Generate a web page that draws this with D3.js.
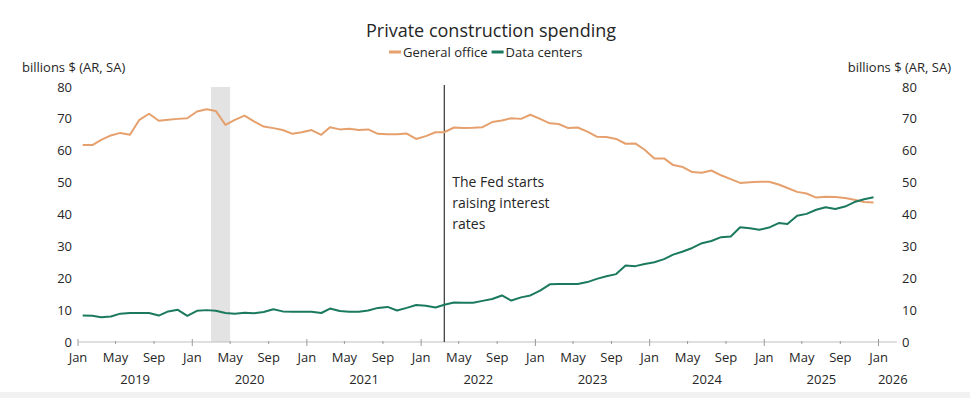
<!DOCTYPE html>
<html>
<head>
<meta charset="utf-8">
<script src="https://cdn.jsdelivr.net/npm/d3@7"></script>
<style>
  html, body { margin: 0; padding: 0; background: #fff; }
  svg { display: block; font-family: "Open Sans", "Noto Sans", sans-serif; }
</style>
</head>
<body>
<svg id="chart" width="970" height="398"></svg>
<script>
/* Private construction spending: general office vs data centers */
(function () {
  const ORANGE = '#e5a06d';
  const GREEN = '#1b7a5e';
  const TEXT = '#262626';

  // monthly, Jan 2019 .. Dec 2025
  const months = d3.timeMonth.range(new Date(2019, 0, 1), new Date(2026, 0, 1));

  const generalOffice = [
    61.8, 61.8, 63.4, 64.8, 65.6, 65.0, 69.7, 71.6, 69.4, 69.7, 70.0, 70.2,
    72.3, 73.0, 72.5, 68.1, 69.7, 71.0, 69.2, 67.6, 67.1, 66.5, 65.3, 65.8,
    66.5, 65.0, 67.4, 66.7, 66.9, 66.5, 66.7, 65.3, 65.2, 65.2, 65.4, 63.7,
    64.6, 65.8, 65.8, 67.3, 67.1, 67.2, 67.4, 69.0, 69.5, 70.2, 70.0, 71.3,
    70.0, 68.6, 68.4, 67.1, 67.3, 66.0, 64.4, 64.3, 63.7, 62.2, 62.3, 60.3,
    57.6, 57.6, 55.5, 54.9, 53.3, 53.1, 53.8, 52.3, 51.1, 49.9, 50.1, 50.3,
    50.3, 49.4, 48.3, 47.1, 46.6, 45.3, 45.6, 45.5, 45.2, 44.6, 43.9, 43.8
  ];
  const dataCenters = [
    8.3, 8.2, 7.8, 8.0, 8.9, 9.1, 9.1, 9.1, 8.3, 9.6, 10.1, 8.2,
    9.8, 10.0, 9.8, 9.1, 8.9, 9.2, 9.0, 9.4, 10.3, 9.6, 9.5, 9.5,
    9.5, 9.1, 10.5, 9.7, 9.5, 9.5, 9.9, 10.7, 11.0, 9.9, 10.7, 11.6,
    11.4, 10.8, 11.7, 12.4, 12.3, 12.3, 12.9, 13.5, 14.6, 13.0, 14.0, 14.6,
    16.1, 18.1, 18.2, 18.2, 18.2, 18.8, 19.8, 20.6, 21.3, 24.0, 23.8, 24.5,
    25.0, 26.0, 27.4, 28.4, 29.5, 31.0, 31.7, 32.9, 33.1, 36.0, 35.7, 35.2,
    35.9, 37.3, 37.0, 39.6, 40.2, 41.5, 42.3, 41.7, 42.5, 43.9, 44.8, 45.4
  ];

  const series = [
    { name: 'General office', values: generalOffice, color: ORANGE },
    { name: 'Data centers', values: dataCenters, color: GREEN }
  ];

  const yTicks = [0, 10, 20, 30, 40, 50, 60, 70, 80];
  const yearLabels = [2019, 2020, 2021, 2022, 2023, 2024, 2025, 2026];
  const recession = [new Date(2020, 2, 1), new Date(2020, 4, 1)];
  const fedDate = new Date(2022, 2, 16);
  const fedNote = ['The Fed starts', 'raising interest', 'rates'];

  const svg = d3.select('#chart');

  const x = d3.scaleTime()
    .domain([new Date(2019, 0, 1), new Date(2026, 2, 1)])
    .range([78, 897]);
  const y = d3.scaleLinear().domain([0, 80]).range([342, 87]);

  // mid-month placement of monthly points
  const mid = (d) => new Date(d.getFullYear(), d.getMonth(), 16);

  // recession band
  svg.append('rect')
    .attr('x', x(recession[0]))
    .attr('y', y(80))
    .attr('width', x(recession[1]) - x(recession[0]))
    .attr('height', y(0) - y(80))
    .attr('fill', '#e3e3e3');

  // x axis
  const xAxis = svg.append('g').attr('transform', 'translate(0,' + y(0) + ')');
  xAxis.append('line')
    .attr('x1', x.range()[0]).attr('x2', x.range()[1])
    .attr('stroke', '#bfbfbf').attr('stroke-width', 1.2);
  const tickDates = d3.timeMonth.every(4).range(new Date(2019, 0, 1), new Date(2026, 1, 1));
  xAxis.selectAll('line.tick').data(tickDates).join('line')
    .attr('class', 'tick')
    .attr('x1', (d) => x(d)).attr('x2', (d) => x(d))
    .attr('y1', (d) => (d.getMonth() === 0 ? -3 : -1))
    .attr('y2', (d) => (d.getMonth() === 0 ? 4 : 2))
    .attr('stroke', '#9a9a9a').attr('stroke-width', 1);
  xAxis.selectAll('text.mon').data(tickDates).join('text')
    .attr('class', 'mon')
    .attr('x', (d) => x(d)).attr('y', 20)
    .attr('text-anchor', 'middle')
    .attr('font-size', 13).attr('fill', TEXT)
    .text(d3.timeFormat('%b'));
  xAxis.selectAll('text.yr').data(yearLabels).join('text')
    .attr('class', 'yr')
    .attr('x', (d) => {
      const a = x(new Date(d, 0, 1));
      const b = Math.min(x(new Date(d + 1, 0, 1)), x.range()[1] + 10);
      return (a + b) / 2;
    })
    .attr('y', 42)
    .attr('text-anchor', 'middle')
    .attr('font-size', 13).attr('fill', TEXT)
    .text((d) => d);

  // y labels, both sides
  svg.append('g').selectAll('text').data(yTicks).join('text')
    .attr('x', 72).attr('y', (d) => y(d)).attr('dy', '0.35em')
    .attr('text-anchor', 'end')
    .attr('font-size', 13).attr('fill', TEXT)
    .text((d) => d);
  svg.append('g').selectAll('text').data(yTicks).join('text')
    .attr('x', 902).attr('y', (d) => y(d)).attr('dy', '0.35em')
    .attr('text-anchor', 'start')
    .attr('font-size', 13).attr('fill', TEXT)
    .text((d) => d);

  svg.append('text').attr('x', 22).attr('y', 72)
    .attr('font-size', 13).attr('fill', TEXT).text('billions $ (AR, SA)');
  svg.append('text').attr('x', 951).attr('y', 72)
    .attr('text-anchor', 'end')
    .attr('font-size', 13).attr('fill', TEXT).text('billions $ (AR, SA)');

  // Fed line + note
  svg.append('line')
    .attr('x1', x(fedDate)).attr('x2', x(fedDate))
    .attr('y1', y(80) - 2).attr('y2', y(0))
    .attr('stroke', '#333').attr('stroke-width', 1.2);
  svg.append('text')
    .attr('x', x(fedDate) + 8).attr('y', 187)
    .attr('font-size', 14).attr('fill', TEXT)
    .selectAll('tspan').data(fedNote).join('tspan')
    .attr('x', x(fedDate) + 8)
    .attr('dy', (d, i) => (i ? 21 : 0))
    .text((d) => d);

  // series lines
  const line = d3.line()
    .x((d, i) => x(mid(months[i])))
    .y((d) => y(d));
  svg.append('g').selectAll('path').data(series).join('path')
    .attr('d', (s) => line(s.values))
    .attr('fill', 'none')
    .attr('stroke', (s) => s.color)
    .attr('stroke-width', 2)
    .attr('stroke-linejoin', 'round');

  // title + legend
  svg.append('text').attr('x', 491).attr('y', 37)
    .attr('text-anchor', 'middle')
    .attr('font-size', 18).attr('fill', TEXT)
    .text('Private construction spending');

  const legend = svg.append('g').attr('transform', 'translate(389,52)');
  let lx = 0;
  series.forEach((s) => {
    legend.append('line')
      .attr('x1', lx).attr('x2', lx + 12)
      .attr('stroke', s.color).attr('stroke-width', 3);
    const t = legend.append('text')
      .attr('x', lx + 14).attr('y', 0).attr('dy', '0.35em')
      .attr('font-size', 13).attr('fill', TEXT)
      .text(s.name);
    lx += 14 + t.node().getComputedTextLength() + 4;
  });

  // light strip at the bottom edge
  svg.append('rect').attr('x', 0).attr('y', 392).attr('width', 970).attr('height', 6)
    .attr('fill', '#f2f2f2');
})();
</script>
</body>
</html>
